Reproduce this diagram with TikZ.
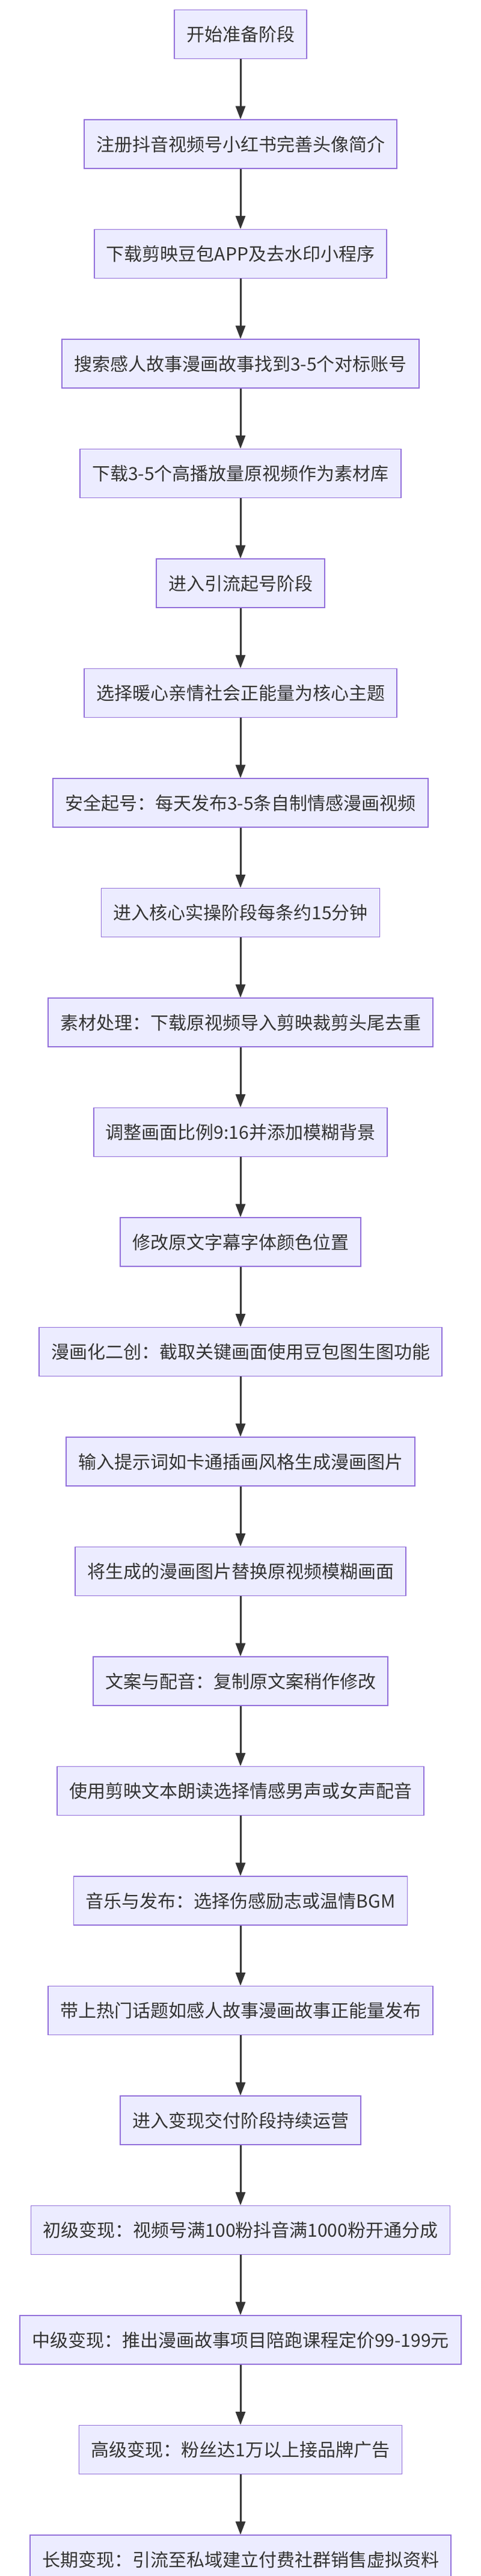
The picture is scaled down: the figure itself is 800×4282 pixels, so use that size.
\documentclass[tikz,border=0pt]{standalone}
\usepackage{fontspec}
\setmainfont{Noto Sans CJK SC}
\usetikzlibrary{positioning, arrows.meta}

\definecolor{boxfill}{HTML}{ECECFF}
\definecolor{boxline}{HTML}{9370DB}
\definecolor{flowline}{HTML}{333333}

\tikzset{
  stepbox/.style={draw=boxline, fill=boxfill, line width=1.5pt, minimum height=81pt,
    inner xsep=20pt, font=\fontsize{30}{36}\selectfont, text=flowline},
  flow/.style={draw=flowline, line width=3pt, -{Triangle[length=22pt, width=16pt]}}
}

\begin{document}
\begin{tikzpicture}[x=1pt, y=1pt]
  \useasboundingbox (0,0) rectangle (800,4282);
  \node[stepbox, anchor=north] (n1) at (400,4266) {开始准备阶段};
  \foreach \t [count=\i from 2] in {
    注册抖音视频号小红书完善头像简介,
    下载剪映豆包APP及去水印小程序,
    搜索感人故事漫画故事找到3-5个对标账号,
    下载3-5个高播放量原视频作为素材库,
    进入引流起号阶段,
    选择暖心亲情社会正能量为核心主题,
    安全起号：每天发布3-5条自制情感漫画视频,
    进入核心实操阶段每条约15分钟,
    素材处理：下载原视频导入剪映裁剪头尾去重,
    调整画面比例9:16并添加模糊背景,
    修改原文字幕字体颜色位置,
    漫画化二创：截取关键画面使用豆包图生图功能,
    输入提示词如卡通插画风格生成漫画图片,
    将生成的漫画图片替换原视频模糊画面,
    文案与配音：复制原文案稍作修改,
    使用剪映文本朗读选择情感男声或女声配音,
    音乐与发布：选择伤感励志或温情BGM,
    带上热门话题如感人故事漫画故事正能量发布,
    进入变现交付阶段持续运营,
    初级变现：视频号满100粉抖音满1000粉开通分成,
    中级变现：推出漫画故事项目陪跑课程定价99-199元,
    高级变现：粉丝达1万以上接品牌广告,
    长期变现：引流至私域建立付费社群销售虚拟资料} {
    \pgfmathtruncatemacro{\j}{\i-1}
    \node[stepbox, below=100pt of n\j] (n\i) {\t};
    \draw[flow] (n\j) -- (n\i);
  }
\end{tikzpicture}
\end{document}
